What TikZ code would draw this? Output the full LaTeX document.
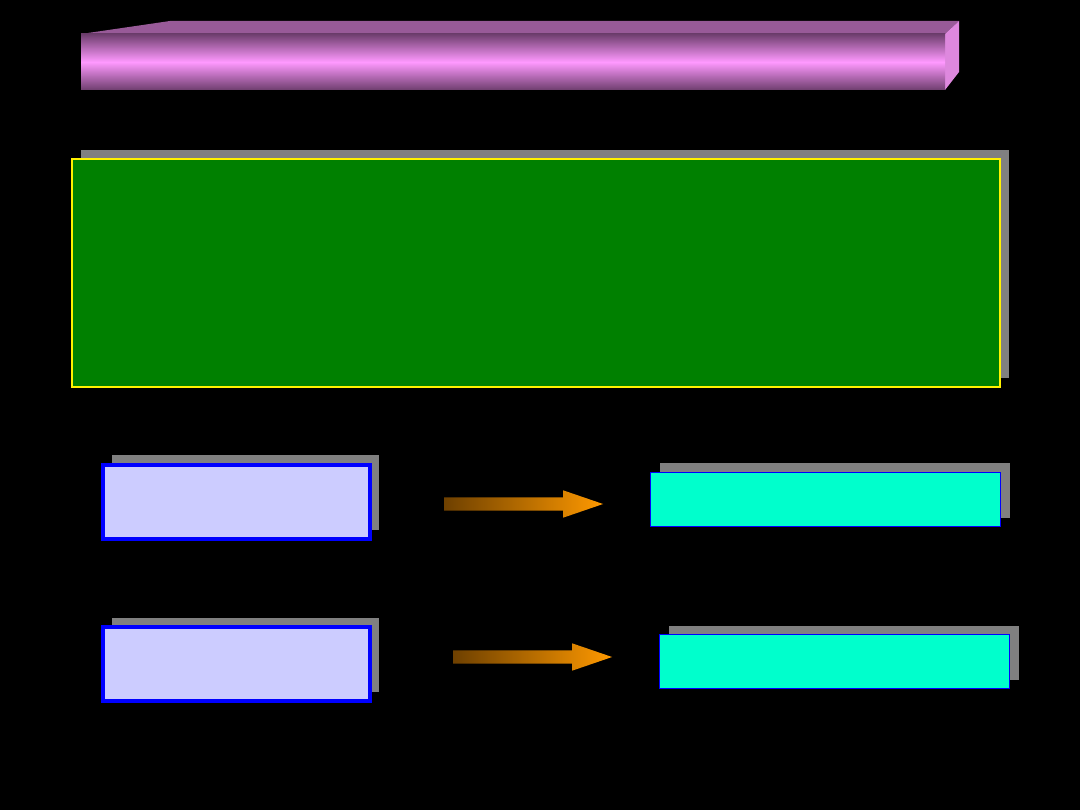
\documentclass[tikz,border=0pt]{standalone}
\usepackage{xcolor}
\definecolor{barlight}{RGB}{255, 153, 255}
\definecolor{bardark}{RGB}{110, 62, 110}
\definecolor{bartop}{RGB}{152, 90, 152}
\definecolor{barside}{RGB}{222, 136, 222}
\definecolor{boxgreen}{RGB}{0, 128, 0}
\definecolor{boxlav}{RGB}{204, 204, 255}
\definecolor{boxcyan}{RGB}{0, 255, 204}
\definecolor{arrdark}{RGB}{110, 64, 0}
\definecolor{arrorange}{RGB}{255, 153, 0}
\definecolor{shadowgray}{RGB}{128, 128, 128}
\usepackage{tikz}
\usetikzlibrary{shapes.arrows, shadows}

\begin{document}
\begin{tikzpicture}[x=0.01cm, y=-0.01cm, every node/.style={font=\small, outer sep=0pt},
    greyshadow/.style={drop shadow={shadow xshift=0.09cm, shadow yshift=0.09cm, shadow scale=1, fill=shadowgray, opacity=1}},
    inbox/.style={draw=blue, fill=boxlav, line width=0.04cm, anchor=north west, inner sep=0pt, minimum width=2.67cm, minimum height=0.74cm, greyshadow},
    outbox/.style={draw=blue, fill=boxcyan, line width=0.01cm, anchor=north west, inner sep=0pt, minimum width=3.50cm, minimum height=0.54cm, greyshadow},
    blockarrow/.style={single arrow, anchor=tail, minimum height=1.59cm, inner xsep=0pt, inner ysep=0.06cm, single arrow head extend=0.07cm, single arrow tip angle=37.8, left color=arrdark, right color=arrorange}]
    % background and page size
    \fill[black] (0,0) rectangle (1080,810);

    % title bar
    \fill[bartop] (81,34) -- (170,21) -- (959,21) -- (945,34) -- cycle;
    \fill[barside] (945,34) -- (959,21) -- (959,72) -- (945,90) -- cycle;
    \shade[top color=bardark, bottom color=bardark, middle color=barlight] (81,34) rectangle (945,90);

    % main panel
    \node [draw=yellow, fill=boxgreen, line width=0.02cm, anchor=north west, inner sep=0pt, minimum width=9.27cm, minimum height=2.28cm, greyshadow] (mainbox) at (72,159) {};

    % first row
    \node [inbox] (inA) at (102.5,464.5) {};
    \node [blockarrow] (arrA) at (444,504) {};
    \node [outbox] (outA) at (650.5,472.5) {};

    % second row
    \node [inbox] (inB) at (102.5,626.5) {};
    \node [blockarrow] (arrB) at (453,657) {};
    \node [outbox] (outB) at (659.5,634.5) {};
\end{tikzpicture}
\end{document}
